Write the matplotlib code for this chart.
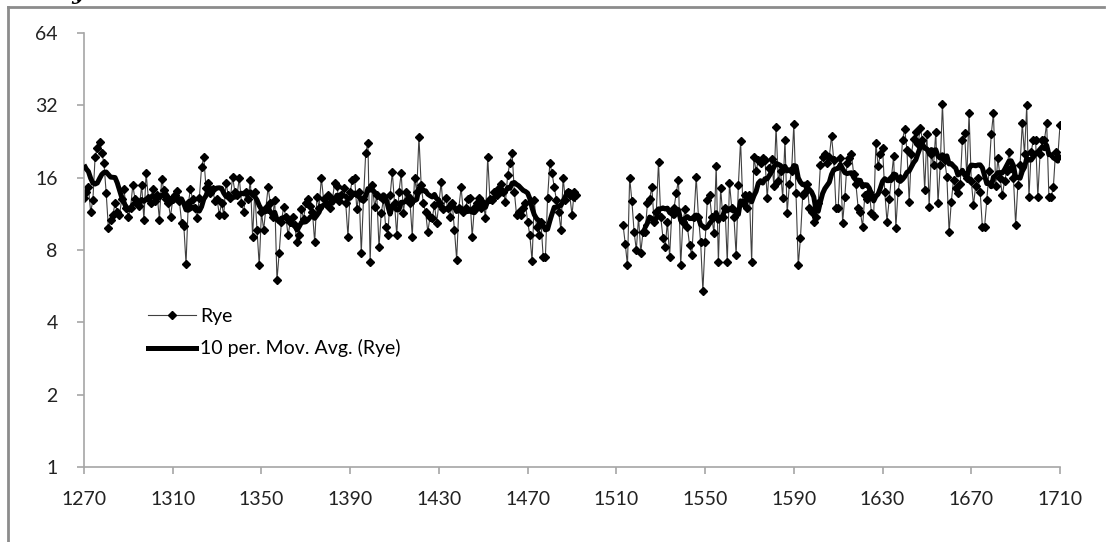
import matplotlib
matplotlib.use("Agg")
import matplotlib.pyplot as plt
from matplotlib.ticker import FixedLocator, NullLocator
from matplotlib.lines import Line2D
import numpy as np
import pandas as pd

# rye prices (first run 1270-1492, second run 1513-1710)
rye_1270 = [
    13.2, 14.0, 14.6, 11.5, 12.9, 19.5, 21.3, 22.6, 20.3, 18.4,
    13.8, 9.9, 10.7, 11.2, 12.5, 11.5, 11.2, 13.0, 14.3, 12.0,
    11.0, 12.0, 14.9, 13.0, 12.5, 12.2, 14.9, 10.7, 16.7, 13.2,
    12.5, 14.3, 12.8, 13.5, 10.7, 15.8, 14.2, 13.0, 12.6, 11.0,
    13.0, 13.6, 14.1, 12.8, 10.4, 10.1, 7.0, 12.5, 14.3, 13.0,
    12.0, 10.9, 13.2, 17.7, 19.5, 14.5, 15.2, 13.8, 14.3, 12.8,
    13.0, 11.2, 12.5, 11.2, 15.2, 13.6, 13.2, 16.1, 14.0, 13.5,
    16.0, 12.6, 11.5, 14.0, 13.0, 15.7, 9.1, 14.0, 9.7, 6.9,
    11.5, 9.7, 12.0, 14.6, 12.5, 11.0, 12.9, 6.0, 7.8, 10.5,
    12.1, 11.0, 9.2, 10.5, 11.0, 10.2, 8.6, 9.2, 11.8, 10.8,
    12.5, 13.0, 12.2, 11.5, 8.6, 13.3, 12.0, 16.0, 13.0, 12.4,
    13.5, 12.0, 13.0, 15.2, 14.8, 12.8, 13.5, 14.5, 12.5, 9.1,
    14.0, 15.7, 16.0, 11.8, 14.0, 7.8, 13.0, 20.3, 22.3, 7.1,
    14.9, 12.1, 13.5, 8.2, 11.4, 13.0, 10.0, 9.2, 13.5, 16.9,
    12.5, 9.2, 14.0, 16.7, 11.4, 14.0, 13.0, 12.5, 9.1, 16.0,
    14.0, 23.6, 14.9, 12.5, 11.5, 9.5, 11.0, 10.9, 12.3, 10.4,
    12.5, 15.3, 11.8, 13.2, 12.0, 11.0, 12.5, 9.7, 7.3, 12.0,
    14.6, 11.5, 12.0, 13.0, 13.2, 9.1, 12.0, 12.5, 13.2, 12.0,
    12.5, 10.9, 19.5, 13.0, 12.9, 14.0, 13.5, 14.5, 15.0, 14.0,
    12.7, 16.4, 18.4, 20.3, 14.0, 11.2, 11.5, 11.2, 12.0, 12.5,
    10.5, 9.2, 7.2, 12.9, 10.0, 9.2, 10.5, 7.5, 7.5, 13.2,
    18.4, 16.7, 14.6, 12.9, 11.5, 9.7, 16.0, 12.9, 14.0, 13.5,
    11.2, 14.0, 13.5,
]

rye_1513 = [
    10.2, 8.5, 6.9, 16.0, 12.8, 9.5, 8.0,
    11.0, 7.8, 9.5, 9.5, 12.5, 13.1, 14.6, 10.5, 11.5, 18.6,
    11.0, 9.0, 8.2, 10.5, 7.5, 11.5, 12.0, 13.8, 15.7, 6.9,
    10.5, 11.8, 10.0, 8.4, 7.6, 11.0, 16.1, 11.0, 8.6, 5.4,
    8.6, 12.9, 13.5, 11.0, 9.4, 17.9, 7.1, 14.5, 11.0, 12.0,
    7.1, 15.2, 12.0, 11.0, 7.6, 14.9, 22.8, 12.5, 13.5, 12.0,
    13.5, 7.1, 19.5, 17.0, 19.0, 18.5, 19.3, 19.0, 13.2, 17.5,
    19.1, 14.8, 26.0, 15.5, 17.0, 13.2, 23.0, 11.4, 15.0, 17.0,
    26.8, 13.8, 6.9, 9.0, 13.5, 14.0, 15.0, 12.0, 11.5, 10.5,
    11.0, 12.5, 18.1, 19.5, 20.0, 18.5, 19.5, 23.9, 19.0, 12.0,
    12.0, 19.3, 10.4, 13.3, 18.5, 19.3, 20.0, 16.5, 15.0, 12.0,
    11.5, 10.0, 13.5, 13.0, 14.0, 11.4, 11.1, 22.3, 17.9, 20.0,
    21.3, 14.0, 10.5, 13.0, 16.0, 19.7, 9.9, 14.0, 16.0, 23.0,
    25.5, 20.8, 12.7, 20.0, 23.2, 24.9, 22.0, 25.8, 23.0, 14.2,
    24.2, 12.1, 20.0, 18.0, 24.9, 12.5, 18.0, 32.4, 19.0, 16.1,
    9.5, 12.7, 15.7, 14.5, 13.8, 15.0, 23.0, 24.6, 16.0, 29.7,
    15.5, 12.3, 14.8, 16.0, 14.0, 10.0, 10.0, 12.9, 17.0, 24.2,
    29.7, 14.8, 19.3, 16.0, 13.5, 15.5, 17.0, 20.5, 17.5, 16.0,
    10.2, 14.9, 18.0, 27.0, 20.0, 32.0, 13.3, 20.5, 23.0, 23.0,
    13.3, 20.0, 23.0, 23.0, 27.0, 13.3, 13.3, 14.6, 20.5, 19.5,
    26.5,
]

# years before the axis start, only feed the moving average (1261-1269)
rye_before = [21.0, 19.0, 22.0, 20.0, 21.0, 19.8, 16.0, 14.0, 15.0]

y_ticks = [1, 2, 4, 8, 16, 32, 64]
x_ticks = list(range(1270, 1711, 40))

years = np.arange(1261, 1711)
rye = pd.Series(np.nan, index=years)
rye.loc[1261:1269] = rye_before
rye.loc[1270:1270 + len(rye_1270) - 1] = rye_1270
rye.loc[1513:1513 + len(rye_1513) - 1] = rye_1513
mov_avg = rye.rolling(10).mean()

shown = rye.loc[1270:]
ma_shown = mov_avg.loc[1270:]

W, H = 1107, 542
fig = plt.figure(figsize=(W / 100, H / 100), dpi=100)
plt.rcParams['font.family'] = ['Lato', 'DejaVu Sans']

ax = fig.add_axes([84 / W, 75 / H, (1060 - 84) / W, (509 - 75) / H])
ax.plot(shown.index, shown.values, color='#404040', lw=0.8,
        marker='D', ms=4.4, mfc='black', mec='black', zorder=2)
ax.plot(ma_shown.index, ma_shown.values, color='black', lw=3.6,
        solid_capstyle='butt', zorder=3)

ax.set_yscale('log', base=2)
ax.set_ylim(1, 64)
ax.set_xlim(1270, 1710)
ax.yaxis.set_major_locator(FixedLocator(y_ticks))
ax.yaxis.set_minor_locator(NullLocator())
ax.set_yticklabels([str(v) for v in y_ticks])
ax.set_xticks(x_ticks)
ax.set_xticklabels([str(v) for v in x_ticks])

for s in ['top', 'right']:
    ax.spines[s].set_visible(False)
for s in ['left', 'bottom']:
    ax.spines[s].set_color('#a6a6a6')
    ax.spines[s].set_linewidth(1.2)
ax.tick_params(axis='both', colors='#a6a6a6', length=5, width=1.2,
               labelsize=14, labelcolor='#222222')
ax.tick_params(axis='y', pad=14)
ax.tick_params(axis='x', pad=12)

handles = [
    Line2D([], [], color='#404040', lw=0.8, marker='D', ms=4.4,
           mfc='black', mec='black'),
    Line2D([], [], color='black', lw=3.6),
]
ax.legend(handles, ['Rye', '10 per. Mov. Avg. (Rye)'], loc='upper left',
          bbox_to_anchor=(56 / 976, 0.385), frameon=False, fontsize=14,
          handlelength=2.5, handletextpad=0.2, labelspacing=0.75,
          borderaxespad=0)

# outer chart border (left and top only are visible in the cropped source)
fig.add_artist(Line2D([8 / W, 8 / W], [0, 1 - 7 / H], color='#8c8c8c',
                      lw=2, transform=fig.transFigure))
fig.add_artist(Line2D([8 / W, 1104 / W], [1 - 7 / H, 1 - 7 / H],
                      color='#8c8c8c', lw=2, transform=fig.transFigure))

# title of the chart, cut off above the image as in the source
fig.text(55 / W, 1 + 1 / H, 'Rye', fontsize=16, fontweight='bold',
         fontstyle='italic', va='baseline', family=['DejaVu Serif'])

fig.savefig('out.png', dpi=100)
